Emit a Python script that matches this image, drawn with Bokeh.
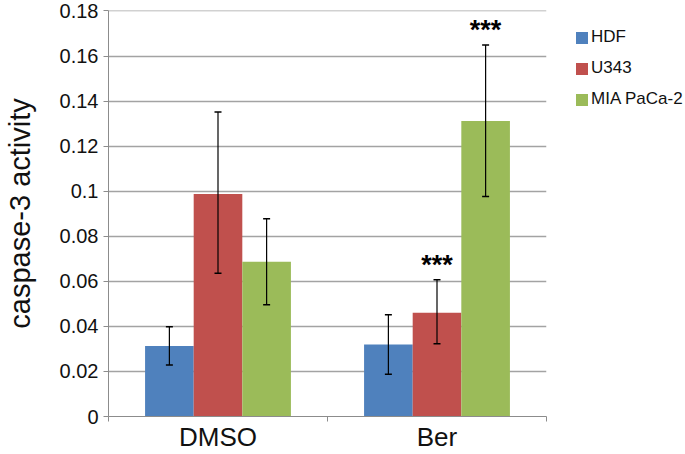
from bokeh.plotting import figure
from bokeh.models import (ColumnDataSource, Range1d, FixedTicker, Legend, LegendItem,
                          Whisker, TeeHead)
from bokeh.embed import file_html
from bokeh.resources import INLINE
from bokeh.core.properties import value

categories = ["DMSO", "Ber"]
series = ["HDF", "U343", "MIA PaCa-2"]
colors = ["#4F81BD", "#C0504D", "#9BBB59"]

hdf = [0.0313, 0.0320]
hdf_lo = [0.0229, 0.0188]
hdf_hi = [0.0398, 0.0452]

u343 = [0.0988, 0.0460]
u343_lo = [0.0636, 0.0323]
u343_hi = [0.1351, 0.0607]

mia = [0.0687, 0.1311]
mia_lo = [0.0496, 0.0977]
mia_hi = [0.0878, 0.1649]

u343_marks = ["", "***"]
mia_marks = ["", "***"]
hdf_marks = ["", ""]

y_ticks = [0, 0.02, 0.04, 0.06, 0.08, 0.1, 0.12, 0.14, 0.16, 0.18]
y_tick_labels = ["0", "0.02", "0.04", "0.06", "0.08", "0.1", "0.12", "0.14", "0.16", "0.18"]

FONT = "Liberation Sans"
BAR_W = 0.222
AXIS_GREY = "#8c8c8c"

p = figure(frame_width=438, frame_height=406, x_range=Range1d(0, len(categories)),
           y_range=Range1d(0, 0.1802), output_backend="svg", toolbar_location=None,
           min_border_left=107, min_border_right=140, min_border_top=10, min_border_bottom=38)
p.outline_line_color = None
p.background_fill_color = "white"
p.border_fill_color = "white"

# grid
p.xgrid.grid_line_color = None
p.ygrid.grid_line_color = "#a3a3a3"
p.ygrid.grid_line_width = 1.5

# y axis
p.yaxis.ticker = FixedTicker(ticks=y_ticks)
p.yaxis.major_label_overrides = {t: l for t, l in zip(y_ticks, y_tick_labels)}
p.yaxis.axis_line_color = AXIS_GREY
p.yaxis.major_tick_line_color = AXIS_GREY
p.yaxis.major_tick_out = 5
p.yaxis.major_tick_in = 0
p.yaxis.minor_tick_line_color = None
p.yaxis.major_label_text_font = FONT
p.yaxis.major_label_text_font_size = "20px"
p.yaxis.major_label_text_color = "#111111"
p.yaxis.major_label_standoff = 5
p.yaxis.axis_label = "caspase-3 activity"
p.yaxis.axis_label_text_font = FONT
p.yaxis.axis_label_text_font_size = "29px"
p.yaxis.axis_label_text_font_style = "normal"
p.yaxis.axis_label_text_color = "#111111"
p.yaxis.axis_label_standoff = 21

# x axis
centers = [i + 0.5 for i in range(len(categories))]
bounds = [float(i) for i in range(len(categories) + 1)]
p.xaxis.ticker = FixedTicker(ticks=centers, minor_ticks=bounds)
p.xaxis.major_label_overrides = {c: n for c, n in zip(centers, categories)}
p.xaxis.axis_line_color = AXIS_GREY
p.xaxis.major_tick_line_color = None
p.xaxis.major_tick_out = 0
p.xaxis.major_tick_in = 0
p.xaxis.minor_tick_line_color = AXIS_GREY
p.xaxis.minor_tick_out = 5
p.xaxis.minor_tick_in = 0
p.xaxis.major_label_text_font = FONT
p.xaxis.major_label_text_font_size = "26px"
p.xaxis.major_label_text_color = "#111111"
p.xaxis.major_label_standoff = 0

vals = [hdf, u343, mia]
los = [hdf_lo, u343_lo, mia_lo]
his = [hdf_hi, u343_hi, mia_hi]
marks = [hdf_marks, u343_marks, mia_marks]

items = []
for j, name in enumerate(series):
    xs = [c + (j - 1) * BAR_W for c in centers]
    src = ColumnDataSource(dict(x=xs, top=vals[j], lo=los[j], hi=his[j],
                                mark=marks[j], my=[h + 0.0067 for h in his[j]]))
    r = p.vbar(x="x", top="top", width=BAR_W, source=src, fill_color=colors[j],
               line_color=None)
    items.append(LegendItem(label=name, renderers=[r]))
    w = Whisker(base="x", lower="lo", upper="hi", source=src, line_color="black",
                line_width=1.2, level="overlay",
                upper_head=TeeHead(size=7, line_color="black", line_width=1.5),
                lower_head=TeeHead(size=7, line_color="black", line_width=1.5))
    p.add_layout(w)
    p.text(x="x", y="my", text="mark", source=src, text_align="center",
           text_baseline="alphabetic", text_font=value(FONT), text_font_style="bold",
           text_font_size="27px", text_color="black")

legend = Legend(items=items, location=(28, 307), orientation="vertical",
                glyph_width=15, glyph_height=15, label_height=15, spacing=11,
                label_standoff=2, padding=0, margin=0, border_line_color=None,
                background_fill_alpha=0, label_text_font=FONT,
                label_text_font_size="17px", label_text_color="#111111")
p.add_layout(legend, "right")

open("out.html", "w").write(file_html(p, INLINE))
